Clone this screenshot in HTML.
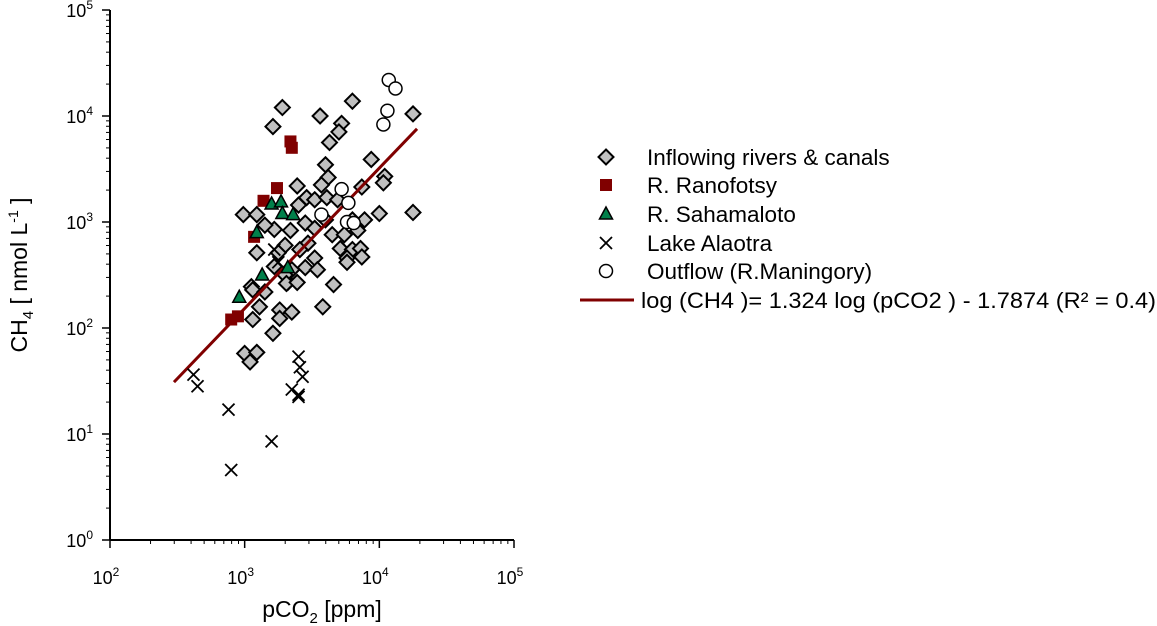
<!DOCTYPE html>
<html><head><meta charset="utf-8"><style>
html,body{margin:0;padding:0;background:#fff;}
svg{display:block;font-family:"Liberation Sans",Arial,sans-serif;}
</style></head><body>
<svg id="chart" width="1157" height="626" viewBox="0 0 1157 626" xmlns="http://www.w3.org/2000/svg">
<g id="axes"></g>
<g id="marks"></g>
<g id="legend"></g>
</svg>
<script>
// data in log10 units
const riversLogPCO2=[3.28,3.21,3.56,3.80,3.72,3.70,3.63,4.25,3.94,3.60,3.62,4.04,4.03,3.39,4.00,4.25,2.99,3.09,3.09,3.22,3.46,3.40,3.52,3.61,3.69,3.87,3.34,3.45,3.52,3.60,3.65,3.74,3.80,3.84,3.89,3.47,3.30,3.25,3.71,3.80,3.86,3.87,3.76,3.52,3.45,3.35,3.22,3.54,3.32,3.05,3.66,3.30,3.06,3.11,3.06,3.26,3.35,3.26,3.21,3.15,3.31,3.39,3.76,3.00,3.09,3.04,3.58,3.15,3.41,3.57];
const riversLogCH4=[4.08,3.90,4.00,4.14,3.93,3.85,3.75,4.02,3.59,3.54,3.42,3.43,3.37,3.34,3.08,3.09,3.07,3.07,2.71,2.93,3.23,3.16,3.21,3.23,3.21,3.33,2.92,2.99,2.94,3.02,2.88,2.88,3.02,2.92,3.02,2.80,2.78,2.71,2.75,2.74,2.75,2.67,2.66,2.66,2.57,2.55,2.58,2.55,2.43,2.39,2.41,2.50,2.36,2.20,2.08,2.17,2.15,2.09,1.95,2.34,2.42,2.43,2.62,1.76,1.77,1.68,2.20,2.97,2.74,3.35];
const ranoLogPCO2=[3.34,3.35,3.24,3.14,3.07,2.90,2.95];
const ranoLogCH4=[3.76,3.70,3.32,3.20,2.86,2.08,2.11];
const sahaLogPCO2=[3.20,3.27,3.28,3.36,3.09,3.13,3.32,2.96];
const sahaLogCH4=[3.17,3.19,3.08,3.07,2.90,2.50,2.57,2.29];
const lakeLogPCO2=[2.62,2.65,2.88,2.90,3.20,3.40,3.41,3.43,3.35,3.40,3.40,3.22,3.25];
const lakeLogCH4=[1.56,1.45,1.23,0.66,0.93,1.73,1.63,1.54,1.42,1.37,1.35,2.74,2.62];
const outLogPCO2=[4.07,4.12,4.06,4.03,3.72,3.77,3.57,3.76,3.81];
const outLogCH4=[4.34,4.26,4.05,3.92,3.31,3.18,3.07,3.00,2.99];
const fitSlope=1.324, fitIntercept=-1.7874;
const fitRangeLog=[2.475,4.28];
const xTickExp=[2,3,4,5];
const yTickExp=[0,1,2,3,4,5];

const NS="http://www.w3.org/2000/svg";
const X0=110,X1=514,Y0=540,Y1=10;
const sx=l=>X0+(l-2)*(X1-X0)/3;
const sy=l=>Y0-(l-0)*(Y0-Y1)/5;
function mk(tag,attrs,parent,text){const e=document.createElementNS(NS,tag);for(const k in attrs)e.setAttribute(k,attrs[k]);if(text!==undefined)e.textContent=text;parent.appendChild(e);return e;}
const axes=document.getElementById('axes'),marks=document.getElementById('marks'),legend=document.getElementById('legend');

let a=mk('line',{x1:X0,y1:Y1,x2:X0,y2:Y0,stroke:'#000','stroke-width':2},axes);

a=mk('line',{x1:X0,y1:Y0,x2:X1,y2:Y0,stroke:'#000','stroke-width':2},axes);


xTickExp.forEach((e,i)=>{
  const x=sx(e);
  mk('line',{x1:x,y1:Y0,x2:x,y2:Y0+8,stroke:'#000','stroke-width':1.5},axes);
  if(i<xTickExp.length-1){for(let m=2;m<10;m++){const xm=sx(e+Math.log10(m));mk('line',{x1:xm,y1:Y0,x2:xm,y2:Y0+4,stroke:'#000','stroke-width':1},axes);}}
  const t=mk('text',{x:x-4,y:584,'font-size':18,'text-anchor':'middle'},axes);
  
  t.textContent='10';mk('tspan',{dy:-8,'font-size':12},t,String(e));
});
yTickExp.forEach((e,i)=>{
  const y=sy(e);
  mk('line',{x1:X0-8,y1:y,x2:X0,y2:y,stroke:'#000','stroke-width':1.5},axes);
  if(i<yTickExp.length-1){for(let m=2;m<10;m++){const ym=sy(e+Math.log10(m));mk('line',{x1:X0-4,y1:ym,x2:X0,y2:ym,stroke:'#000','stroke-width':1},axes);}}
  const t=mk('text',{x:93,y:y+7,'font-size':18,'text-anchor':'end'},axes);
  
  t.textContent='10';mk('tspan',{dy:-8,'font-size':12},t,String(e));
});
let xl=mk('text',{x:322,y:617,'font-size':23,'text-anchor':'middle'},axes);

xl.appendChild(document.createTextNode('pCO'));mk('tspan',{dy:6,'font-size':15},xl,'2');mk('tspan',{dy:-6},xl,' [ppm]');
let yl=mk('text',{x:0,y:0,'font-size':23,'text-anchor':'middle',transform:'translate(27,275) rotate(-90)'},axes);

yl.appendChild(document.createTextNode('CH'));mk('tspan',{dy:6,'font-size':15},yl,'4');mk('tspan',{dy:-6},yl,' [ nmol L');mk('tspan',{dy:-9,'font-size':14},yl,'-1');mk('tspan',{dy:9},yl,' ]');

function diamond(g,x,y){return mk('polygon',{points:`${x},${y-7.5} ${x+7.5},${y} ${x},${y+7.5} ${x-7.5},${y}`,fill:'#c0c0c0',stroke:'#000','stroke-width':2},g);}
function square(g,x,y){return mk('rect',{x:x-6,y:y-6,width:12,height:12,fill:'#800000'},g);}
function tri(g,x,y){return mk('polygon',{points:`${x},${y-7} ${x+6.5},${y+5} ${x-6.5},${y+5}`,fill:'#00804a',stroke:'#000','stroke-width':1.5},g);}
function cross(g,x,y){const gg=mk('g',{stroke:'#000','stroke-width':1.8},g);mk('line',{x1:x-6,y1:y-6,x2:x+6,y2:y+6},gg);mk('line',{x1:x-6,y1:y+6,x2:x+6,y2:y-6},gg);return gg;}
function circ(g,x,y){return mk('circle',{cx:x,cy:y,r:6.5,fill:'#fff',stroke:'#000','stroke-width':1.5},g);}

riversLogPCO2.forEach((v,i)=>{const p=diamond(marks,sx(v),sy(riversLogCH4[i]));

});
let fl=mk('line',{x1:sx(fitRangeLog[0]),y1:sy(fitSlope*fitRangeLog[0]+fitIntercept),x2:sx(fitRangeLog[1]),y2:sy(fitSlope*fitRangeLog[1]+fitIntercept),stroke:'#800000','stroke-width':3},marks);

ranoLogPCO2.forEach((v,i)=>{const p=square(marks,sx(v),sy(ranoLogCH4[i]));

});
sahaLogPCO2.forEach((v,i)=>{const p=tri(marks,sx(v),sy(sahaLogCH4[i]));

});
lakeLogPCO2.forEach((v,i)=>{const p=cross(marks,sx(v),sy(lakeLogCH4[i]));

});
outLogPCO2.forEach((v,i)=>{const p=circ(marks,sx(v),sy(outLogCH4[i]));

});

const legItems=[['Inflowing rivers & canals',diamond],['R. Ranofotsy',square],['R. Sahamaloto',tri],['Lake Alaotra',cross],['Outflow (R.Maningory)',circ]];
const legY=[157,185,214,243,271];
legItems.forEach((it,i)=>{
  const g=mk('g',{},legend);
  
  it[1](g,606,legY[i]);
  mk('text',{x:647,y:legY[i]+8,'font-size':22.5},g,it[0]);
});
const lg=mk('g',{},legend);

mk('line',{x1:580,y1:300,x2:634,y2:300,stroke:'#800000','stroke-width':3},lg);
mk('text',{x:641,y:308,'font-size':22.5,textLength:515,lengthAdjust:'spacingAndGlyphs'},lg,'log (CH4 )= 1.324 log (pCO2 ) - 1.7874 (R² = 0.4)');
</script>
</body></html>
